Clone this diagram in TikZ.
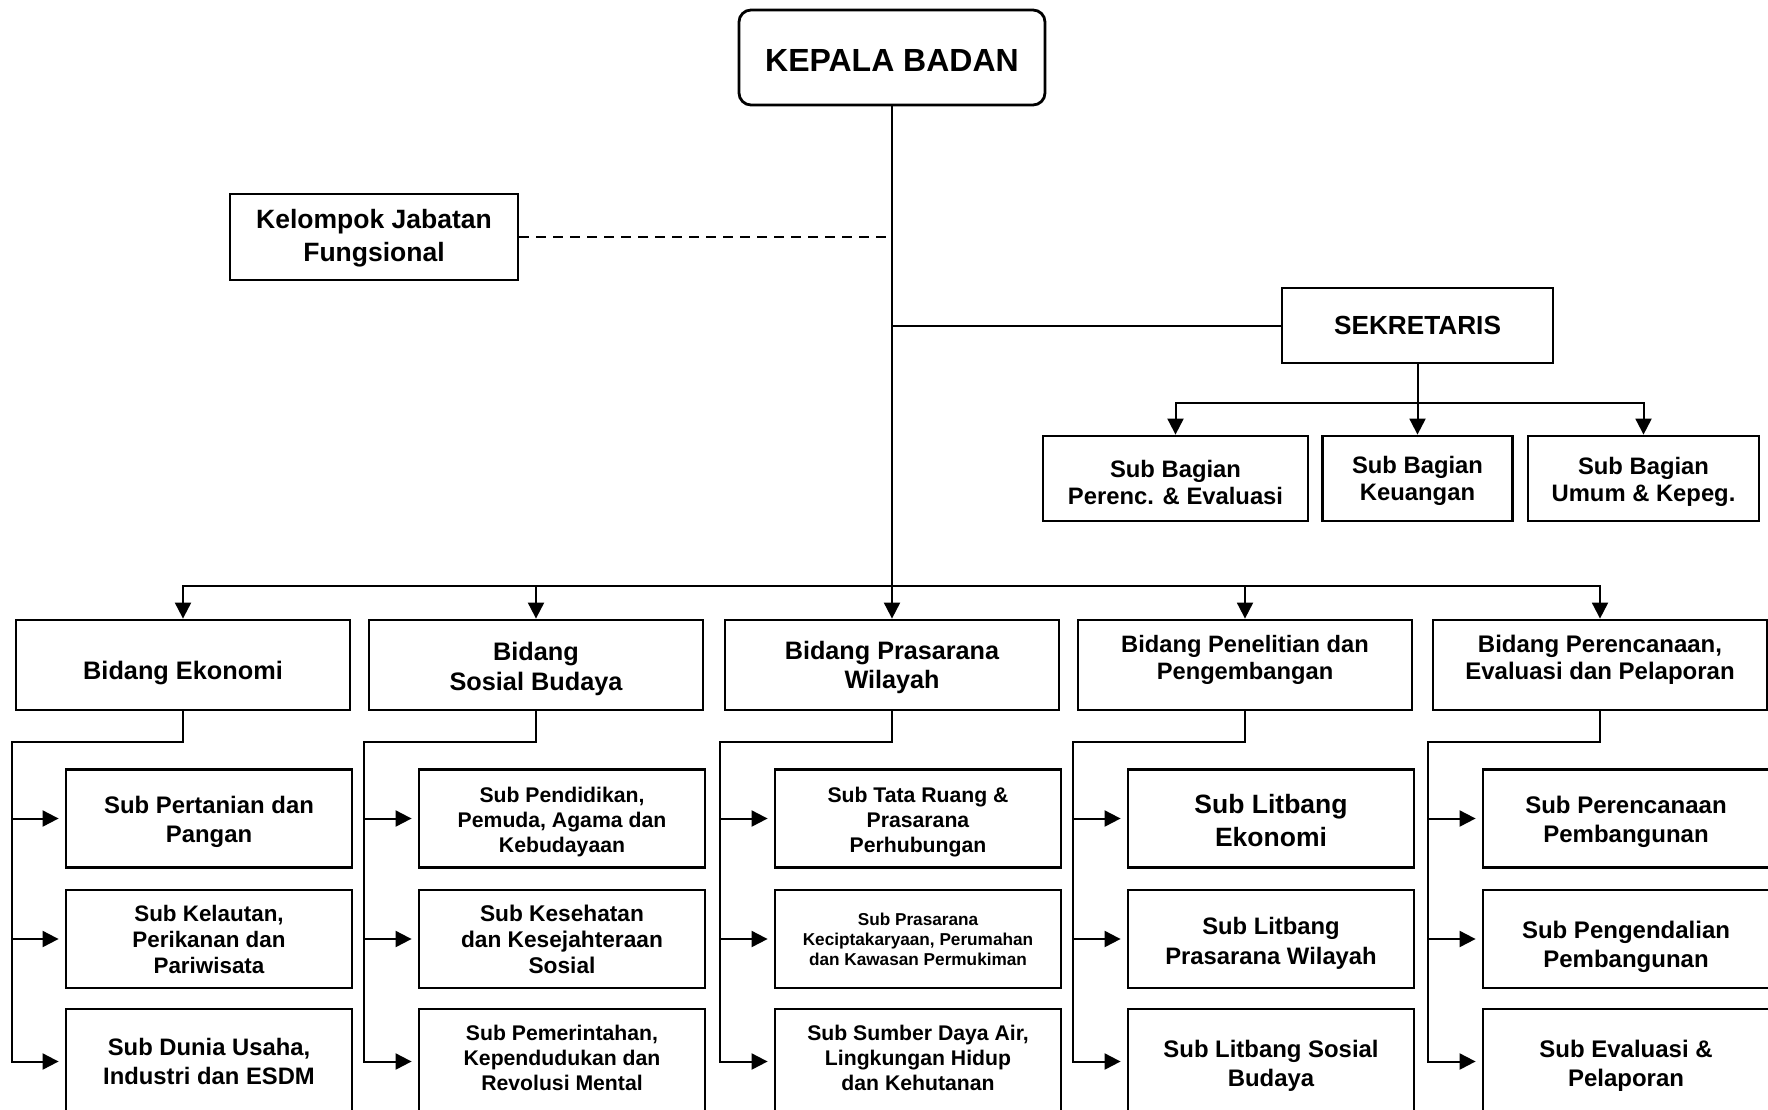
\documentclass[tikz,border=0pt]{standalone}
\usepackage{fontspec}
\setmainfont{Liberation Sans}
\usetikzlibrary{arrows.meta, positioning}
\newcommand{\fs}[2]{\bfseries\fontsize{#1}{#2}\selectfont}
\newcommand{\dr}[1]{\rule{0pt}{#1}}        % pushes text down
\newcommand{\lift}[1]{\rule[-#1]{0pt}{0pt}} % pushes text up

\begin{document}
\begin{tikzpicture}[
  x=1pt, y=-1pt,
  >={Triangle[length=16pt,width=16pt]},
  box/.style={draw, line width=2.8pt, align=center, inner sep=0pt, fill=white},
  bidang/.style={box, minimum width=334pt, minimum height=90pt},
  sub/.style={box, minimum width=286pt, minimum height=98pt},
  lastsub/.style={box, minimum width=286pt, minimum height=105pt},
  bagian/.style={box, minimum height=85pt, font=\fs{23.8}{27}},
  link/.style={line width=2pt},
  feed/.style={link, ->, shorten >=6pt}
]
  \useasboundingbox (0,0) rectangle (1768,1110);

  % top level
  \node[box, rounded corners=12pt, minimum width=306pt, minimum height=95pt,
        font=\fs{32}{36}]   (kepala) at (892,57.5)    {\dr{0.87em}KEPALA BADAN};
  \node[box, minimum width=288pt, minimum height=86pt,
        font=\fs{26.5}{33}] (kjf)    at (374,237)     {\dr{0.8em}Kelompok Jabatan\\Fungsional};
  \node[box, minimum width=271pt, minimum height=75pt,
        font=\fs{26.2}{30}] (sek)    at (1417.5,325.5) {SEKRETARIS};

  % sub bagian sekretariat
  \node[bagian, minimum width=265pt] (sb1) at (1175.5,478.5) {\dr{1.06em}Sub Bagian\\Perenc. \& Evaluasi};
  \node[bagian, minimum width=190pt] (sb2) at (1417.5,478.5) {\dr{0.95em}Sub Bagian\\Keuangan};
  \node[bagian, minimum width=231pt] (sb3) at (1643.5,478.5) {\dr{1.02em}Sub Bagian\\Umum \& Kepeg.};

  % bidang
  \node[bidang, font=\fs{25.3}{30}] (bid1) at (183,665)  {\dr{34pt}Bidang Ekonomi};
  \node[bidang, font=\fs{25.3}{30}] (bid2) at (536,665)  {\dr{1.05em}Bidang\\Sosial Budaya};
  \node[bidang, font=\fs{25.2}{29}] (bid3) at (892,665)  {\dr{0.95em}Bidang Prasarana\\Wilayah};
  \node[bidang, font=\fs{23.7}{27}] (bid4) at (1245,665) {Bidang Penelitian dan\\Pengembangan\lift{15pt}};
  \node[bidang, font=\fs{24}{27}]   (bid5) at (1600,665) {Bidang Perencanaan,\\Evaluasi dan Pelaporan\lift{15pt}};

  % sub bidang
  \node[sub, font=\fs{23.9}{29}]     (sub11) at (209,818.5)  {\dr{1.01em}Sub Pertanian dan\\Pangan};
  \node[sub, font=\fs{22.4}{26}]     (sub12) at (209,939)    {Sub Kelautan,\\Perikanan dan\\Pariwisata};
  \node[lastsub, font=\fs{23.8}{29}] (sub13) at (209,1061.5) {Sub Dunia Usaha,\\Industri dan ESDM};

  \node[sub, font=\fs{21.2}{25}]     (sub21) at (562,818.5)  {\dr{1.05em}Sub Pendidikan,\\Pemuda, Agama dan\\Kebudayaan};
  \node[sub, font=\fs{22.7}{26}]     (sub22) at (562,939)    {Sub Kesehatan\\dan Kesejahteraan\\Sosial};
  \node[lastsub, font=\fs{21.2}{25}] (sub23) at (562,1061.5) {Sub Pemerintahan,\\Kependudukan dan\\Revolusi Mental\lift{7pt}};

  \node[sub, font=\fs{21.2}{25}]     (sub31) at (918,818.5)  {\dr{1.1em}Sub Tata Ruang \&\\Prasarana\\Perhubungan};
  \node[sub, font=\fs{17.2}{20}]     (sub32) at (918,939)    {Sub Prasarana\\Keciptakaryaan, Perumahan\\dan Kawasan Permukiman};
  \node[lastsub, font=\fs{21.2}{25}] (sub33) at (918,1061.5) {Sub Sumber Daya Air,\\Lingkungan Hidup\\dan Kehutanan\lift{7pt}};

  \node[sub, font=\fs{26.5}{33}]     (sub41) at (1271,818.5)  {\dr{0.9em}Sub Litbang\\Ekonomi};
  \node[sub, font=\fs{23.8}{30}]     (sub42) at (1271,939)    {\dr{1.11em}Sub Litbang\\Prasarana Wilayah};
  \node[lastsub, font=\fs{23.9}{29}] (sub43) at (1271,1061.5) {\dr{1.11em}Sub Litbang Sosial\\Budaya};

  \node[sub, font=\fs{24}{29}]     (sub51) at (1626,818.5)  {\dr{1.01em}Sub Perencanaan\\Pembangunan};
  \node[sub, font=\fs{24}{29}]     (sub52) at (1626,939)    {\dr{1.39em}Sub Pengendalian\\Pembangunan};
  \node[lastsub, font=\fs{24}{29}] (sub53) at (1626,1061.5) {\dr{1.1em}Sub Evaluasi \&\\Pelaporan};

  % trunk and staff lines
  \draw[link, ->] (kepala.south) -- (bid3.north);
  \draw[link, dash pattern=on 10pt off 7pt] (kjf.east) -- (kjf.east -| kepala.south);
  \draw[link] (kepala.south |- sek.west) -- (sek.west);

  % sekretariat
  \coordinate (sbus) at (1417.5,403);
  \draw[link, ->] (sek.south) -- (sb2.north);
  \draw[link, ->] (sbus) -| (sb1.north);
  \draw[link, ->] (sbus) -| (sb3.north);

  % bidang bus
  \coordinate (bbus) at (892,586);
  \draw[link, ->] (bbus) -| (bid1.north);
  \draw[link, ->] (bbus) -| (bid2.north);
  \draw[link, ->] (bbus) -| (bid4.north);
  \draw[link, ->] (bbus) -| (bid5.north);

  % sub bidang feeders
  \coordinate (bus1) at (12,742);
  \coordinate (bus2) at (364,742);
  \coordinate (bus3) at (720,742);
  \coordinate (bus4) at (1073,742);
  \coordinate (bus5) at (1428,742);

  \draw[feed] (bid1.south) |- (bus1) |- (sub13.west);
  \draw[feed] (bus1 |- sub11.west) -- (sub11.west);
  \draw[feed] (bus1 |- sub12.west) -- (sub12.west);

  \draw[feed] (bid2.south) |- (bus2) |- (sub23.west);
  \draw[feed] (bus2 |- sub21.west) -- (sub21.west);
  \draw[feed] (bus2 |- sub22.west) -- (sub22.west);

  \draw[feed] (bid3.south) |- (bus3) |- (sub33.west);
  \draw[feed] (bus3 |- sub31.west) -- (sub31.west);
  \draw[feed] (bus3 |- sub32.west) -- (sub32.west);

  \draw[feed] (bid4.south) |- (bus4) |- (sub43.west);
  \draw[feed] (bus4 |- sub41.west) -- (sub41.west);
  \draw[feed] (bus4 |- sub42.west) -- (sub42.west);

  \draw[feed] (bid5.south) |- (bus5) |- (sub53.west);
  \draw[feed] (bus5 |- sub51.west) -- (sub51.west);
  \draw[feed] (bus5 |- sub52.west) -- (sub52.west);
\end{tikzpicture}
\end{document}
